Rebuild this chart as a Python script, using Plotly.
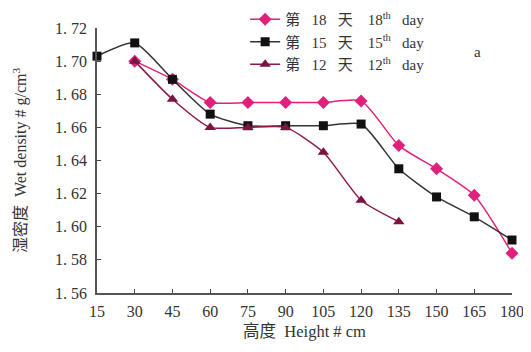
import plotly.graph_objects as go

heights = [15, 30, 45, 60, 75, 90, 105, 120, 135, 150, 165, 180]
x18 = [30, 45, 60, 75, 90, 105, 120, 135, 150, 165, 180]
day18 = [1.700, 1.689, 1.675, 1.675, 1.675, 1.675, 1.676, 1.649, 1.635, 1.619, 1.584]
x15 = [15, 30, 45, 60, 75, 90, 105, 120, 135, 150, 165, 180]
day15 = [1.703, 1.711, 1.689, 1.668, 1.661, 1.661, 1.661, 1.662, 1.635, 1.618, 1.606, 1.592]
x12 = [30, 45, 60, 75, 90, 105, 120, 135]
day12 = [1.700, 1.677, 1.660, 1.660, 1.660, 1.645, 1.616, 1.603]
yticks = [1.56, 1.58, 1.60, 1.62, 1.64, 1.66, 1.68, 1.70, 1.72]
ytick_labels = ["1. 56", "1. 58", "1. 60", "1. 62", "1. 64", "1. 66", "1. 68", "1. 70", "1. 72"]
S = "\u00a0"
names = [f"第{S*3}18{S*3}天{S*4}18<sup>th</sup>{S*3}day",
         f"第{S*3}15{S*3}天{S*4}15<sup>th</sup>{S*3}day",
         f"第{S*3}12{S*3}天{S*4}12<sup>th</sup>{S*3}day"]

font_fam = "Liberation Serif, Noto Sans CJK SC"

fig = go.Figure()
fig.add_trace(go.Scatter(x=x18, y=day18, name=names[0], mode="lines+markers",
                         line=dict(color="#e0207a", width=1.5, shape="spline", smoothing=0.6),
                         marker=dict(symbol="diamond", size=10, color="#e0207a")))
fig.add_trace(go.Scatter(x=x15, y=day15, name=names[1], mode="lines+markers",
                         line=dict(color="#333333", width=1.5, shape="spline", smoothing=0.6),
                         marker=dict(symbol="square", size=9, color="#111111")))
fig.add_trace(go.Scatter(x=x12, y=day12, name=names[2], mode="lines+markers",
                         line=dict(color="#8a1c4c", width=1.5, shape="spline", smoothing=0.6),
                         marker=dict(symbol="triangle-up", size=10, color="#7a1440")))

fig.update_layout(
    width=523, height=344,
    margin=dict(l=89, r=19, t=20, b=59, autoexpand=False),
    paper_bgcolor="white", plot_bgcolor="white",
    font=dict(family=font_fam, size=15, color="#333333"),
    showlegend=True,
    legend=dict(x=0.357, y=1.094, xanchor="left", yanchor="top",
                bgcolor="rgba(0,0,0,0)", font=dict(size=15), tracegroupgap=0,
                itemwidth=30),
    xaxis=dict(range=[15, 180], tickvals=heights, ticks="inside", ticklen=4,
               showline=True, linecolor="#555555", linewidth=1.5, showgrid=False, zeroline=False,
               tickfont=dict(size=16), ticklabelstandoff=3,
               title=dict(text=f"高度{S*2}Height{S}#{S}cm", font=dict(size=16.5), standoff=6)),
    yaxis=dict(range=[1.56, 1.72], tickvals=yticks, ticktext=ytick_labels,
               ticks="inside", ticklen=4,
               showline=True, linecolor="#555555", linewidth=1.5, showgrid=False, zeroline=False,
               tickfont=dict(size=16), ticklabelstandoff=5,
               title=dict(text=f"湿密度{S*2}Wet density{S}#{S}g/cm<sup>3</sup>", font=dict(size=16), standoff=24)),
)
fig.update_traces(cliponaxis=False)
fig.add_annotation(x=0.930, y=0.947, xref="paper", yref="paper",
                   text="a", showarrow=False, font=dict(size=15))
fig.write_html("out.html")
